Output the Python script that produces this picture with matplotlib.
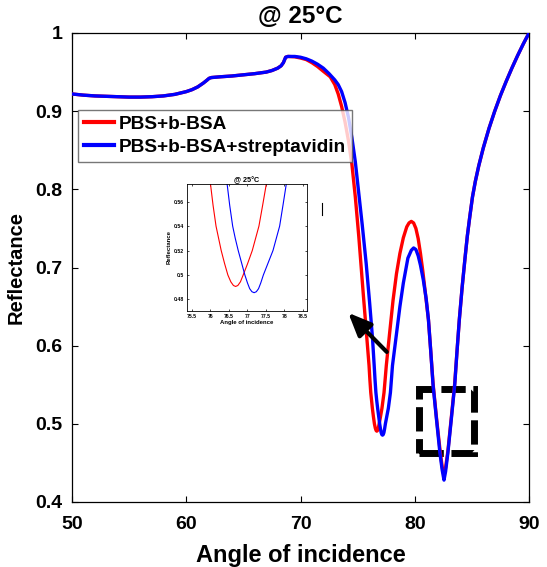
import numpy as np
import matplotlib
matplotlib.use('Agg')
import matplotlib.pyplot as plt
from matplotlib.patches import Rectangle
from matplotlib.lines import Line2D

# reflectance curves
angle_red = [50.0, 51.0, 52.0, 53.0, 54.0, 55.0, 56.0, 57.0, 58.0, 59.0,
             60.0, 60.5, 61.0, 61.5, 61.8, 62.0, 62.2, 63.0, 64.0, 65.0,
             66.0, 67.0, 67.5, 68.0, 68.3, 68.5, 68.7, 68.9, 69.5, 70.0,
             70.5, 71.0, 71.5, 72.0, 72.6, 73.0, 73.3, 73.6, 73.9, 74.2,
             74.5, 74.8, 75.1, 75.5, 75.8, 76.0, 76.07, 76.15, 76.22, 76.29,
             76.38, 76.47, 76.55, 76.62, 76.68, 76.74, 76.81, 76.88, 77.0, 77.13,
             77.22, 77.31, 77.41, 77.51, 77.8, 78.1, 78.4, 78.7, 79.0, 79.3,
             79.5, 79.7, 79.9, 80.1, 80.3, 80.5, 80.7, 80.9, 81.2, 81.4,
             81.6, 81.9, 82.2, 82.4, 82.56, 82.7, 82.9, 83.2, 83.5, 83.7,
             83.9, 84.15, 84.4, 84.6, 84.8, 85.05, 85.3, 85.6, 86.0, 86.5,
             87.0, 87.5, 88.0, 88.5, 89.0, 89.5, 90.0]
refl_red = [0.922, 0.9205, 0.9195, 0.919, 0.9185, 0.918, 0.918, 0.9185, 0.9195, 0.9215,
            0.925, 0.9275, 0.931, 0.936, 0.9395, 0.942, 0.943, 0.944, 0.945, 0.9465,
            0.948, 0.950, 0.952, 0.955, 0.958, 0.962, 0.969, 0.970, 0.9695, 0.968,
            0.966, 0.962, 0.957, 0.951, 0.944, 0.934, 0.922, 0.906, 0.886, 0.862,
            0.832, 0.790, 0.740, 0.665, 0.611, 0.5745, 0.557, 0.540, 0.530, 0.520,
            0.5095, 0.500, 0.4944, 0.4914, 0.4906, 0.4914, 0.4944, 0.4997, 0.509, 0.520,
            0.530, 0.540, 0.557, 0.5745, 0.616, 0.658, 0.692, 0.718, 0.738, 0.752,
            0.757, 0.759, 0.757, 0.750, 0.737, 0.718, 0.696, 0.671, 0.633, 0.593,
            0.552, 0.508, 0.468, 0.445, 0.434, 0.444, 0.465, 0.508, 0.552, 0.593,
            0.633, 0.675, 0.712, 0.740, 0.763, 0.790, 0.810, 0.830, 0.853, 0.878,
            0.900, 0.920, 0.938, 0.955, 0.971, 0.986, 1.000]

angle_blue = [50.0, 51.0, 52.0, 53.0, 54.0, 55.0, 56.0, 57.0, 58.0, 59.0,
              60.0, 60.5, 61.0, 61.5, 61.8, 62.0, 62.2, 63.0, 64.0, 65.0,
              66.0, 67.0, 67.5, 68.0, 68.3, 68.5, 68.7, 68.9, 69.5, 70.0,
              70.5, 71.0, 71.5, 72.0, 72.5, 73.0, 73.3, 73.6, 73.9, 74.2,
              74.5, 74.8, 75.1, 75.4, 75.75, 76.05, 76.3, 76.45, 76.52, 76.6,
              76.67, 76.75, 76.84, 76.93, 77.0, 77.06, 77.12, 77.18, 77.24, 77.3,
              77.36, 77.43, 77.56, 77.69, 77.78, 77.87, 77.96, 78.05, 78.4, 78.7,
              79.0, 79.4, 79.7, 79.9, 80.1, 80.3, 80.5, 80.75, 81.0, 81.2,
              81.4, 81.6, 81.9, 82.2, 82.4, 82.56, 82.7, 82.9, 83.2, 83.5,
              83.7, 83.9, 84.15, 84.4, 84.6, 84.8, 85.05, 85.3, 85.6, 86.0,
              86.5, 87.0, 87.5, 88.0, 88.5, 89.0, 89.5, 90.0]
refl_blue = [0.922, 0.9205, 0.9195, 0.919, 0.9185, 0.918, 0.918, 0.9185, 0.9195, 0.9215,
             0.925, 0.9275, 0.931, 0.936, 0.9395, 0.942, 0.943, 0.944, 0.945, 0.9465,
             0.948, 0.950, 0.952, 0.955, 0.958, 0.962, 0.969, 0.970, 0.970, 0.969,
             0.967, 0.964, 0.960, 0.955, 0.948, 0.940, 0.934, 0.925, 0.911, 0.892,
             0.866, 0.835, 0.795, 0.755, 0.705, 0.655, 0.610, 0.5745, 0.557, 0.540,
             0.530, 0.520, 0.510, 0.500, 0.4935, 0.4888, 0.4863, 0.4855, 0.4863, 0.4888,
             0.4935, 0.500, 0.510, 0.520, 0.530, 0.540, 0.557, 0.5745, 0.615, 0.650,
             0.680, 0.712, 0.722, 0.725, 0.723, 0.715, 0.703, 0.684, 0.660, 0.633,
             0.593, 0.550, 0.506, 0.463, 0.441, 0.428, 0.439, 0.463, 0.506, 0.550,
             0.593, 0.633, 0.675, 0.712, 0.740, 0.763, 0.790, 0.810, 0.830, 0.853,
             0.878, 0.900, 0.920, 0.938, 0.955, 0.971, 0.986, 1.000]

series_labels = ['PBS+b-BSA', 'PBS+b-BSA+streptavidin']
x_ticks = [50, 60, 70, 80, 90]
y_ticks = [0.4, 0.5, 0.6, 0.7, 0.8, 0.9, 1.0]
y_tick_labels = ['0.4', '0.5', '0.6', '0.7', '0.8', '0.9', '1']

inset_x_ticks = [75.5, 76, 76.5, 77, 77.5, 78, 78.5]
inset_x_labels = ['75.5', '76', '76.5', '77', '77.5', '78', '78.5']
inset_y_ticks = [0.48, 0.5, 0.52, 0.54, 0.56]
inset_y_labels = ['0.48', '0.5', '0.52', '0.54', '0.56']

plt.rcParams['font.family'] = ['Liberation Sans', 'DejaVu Sans']
plt.rcParams['font.weight'] = 'bold'

W, H = 547, 567
fig = plt.figure(figsize=(W / 100, H / 100), dpi=100)
ax = fig.add_axes([72 / W, 1 - 502 / H, 457 / W, 469 / H])

ax.plot(angle_red, refl_red, color='red', lw=2.4, label=series_labels[0], zorder=3)
ax.plot(angle_blue, refl_blue, color='blue', lw=2.4, label=series_labels[1], zorder=3)

ax.set_xlim(50, 90)
ax.set_ylim(0.4, 1.0)
ax.set_xticks(x_ticks)
ax.set_yticks(y_ticks)
ax.set_yticklabels(y_tick_labels)
ax.tick_params(axis='both', direction='in', top=True, right=True, length=4, width=0.8,
               labelsize=14)
ax.tick_params(axis='x', pad=10)
ax.tick_params(axis='y', pad=7)
for s in ax.spines.values():
    s.set_linewidth(0.9)
ax.set_xlabel('Angle of incidence', fontsize=17, fontweight='bold', labelpad=8)
ax.set_ylabel('Reflectance', fontsize=14.5, fontweight='bold', labelpad=7)
ax.set_title('@ 25°C', fontsize=17.5, fontweight='bold', pad=7)

# dashed box and arrow
box = Rectangle((80.4, 0.4633), 4.79, 0.0819, fill=False, lw=5,
                ls=(0, (3.5, 1.1)), edgecolor='black', zorder=2)
ax.add_patch(box)
ax.annotate('', xy=(74.18, 0.642), xytext=(77.55, 0.592),
            arrowprops=dict(arrowstyle='-|>,head_length=0.7,head_width=0.3',
                            lw=3, color='black', mutation_scale=20, shrinkA=0, shrinkB=0))

leg = ax.legend(loc='upper left', bbox_to_anchor=(78 / W, 1 - 110 / H),
                bbox_transform=fig.transFigure, fontsize=13.7, frameon=True,
                fancybox=False, edgecolor='#555555', borderaxespad=0,
                handlelength=1.6, handletextpad=0.25, borderpad=0.3,
                labelspacing=0.3)
leg.get_frame().set_linewidth(1.0)
for line in leg.get_lines():
    line.set_linewidth(3)

# inset zoom on the first minimum
axin = fig.add_axes([187 / W, 1 - 311 / H, 120 / W, 127 / H])
axin.plot(angle_red, refl_red, color='red', lw=0.8)
axin.plot(angle_blue, refl_blue, color='blue', lw=0.8)
axin.set_xlim(75.365, 78.61)
axin.set_ylim(0.4705, 0.5745)
axin.set_xticks(inset_x_ticks)
axin.set_xticklabels(inset_x_labels)
axin.set_yticks(inset_y_ticks)
axin.set_yticklabels(inset_y_labels)
axin.tick_params(direction='in', top=True, right=True, length=1.5, width=0.5,
                 labelsize=3.7, pad=2)
for s in axin.spines.values():
    s.set_linewidth(0.6)
axin.set_title('@ 25°C', fontsize=5.2, fontweight='bold', pad=1.5)
axin.set_xlabel('Angle of incidence', fontsize=4.3, fontweight='bold', labelpad=1)
axin.set_ylabel('Reflectance', fontsize=4.3, fontweight='bold', labelpad=1.5)

fig.add_artist(Line2D([322 / W, 322 / W], [1 - 203 / H, 1 - 215 / H],
                      color='black', lw=0.8))

fig.savefig('out.png', dpi=100)
